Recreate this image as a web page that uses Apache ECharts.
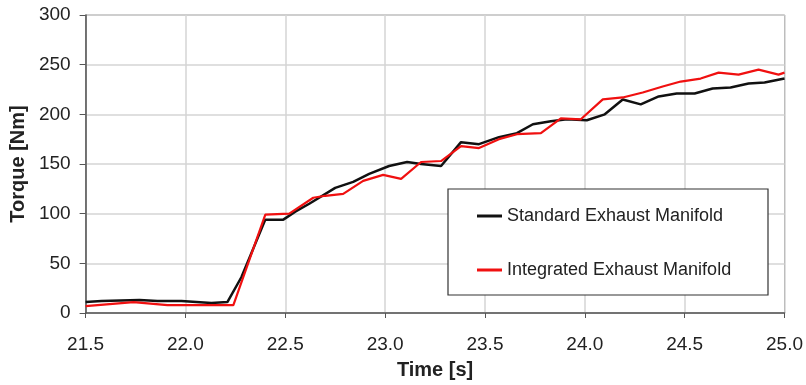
<!DOCTYPE html>
<html>
<head>
<meta charset="utf-8">
<script src="https://cdn.jsdelivr.net/npm/echarts@6/dist/echarts.min.js"></script>
<style>html,body{margin:0;padding:0;background:#fff;}#c{width:806px;height:385px;}</style>
</head>
<body>
<div id="c"></div>
<script>
const seriesNames = ['Standard Exhaust Manifold', 'Integrated Exhaust Manifold'];
const xTicks = [21.5, 22.0, 22.5, 23.0, 23.5, 24.0, 24.5, 25.0];
const yTicks = [0, 50, 100, 150, 200, 250, 300];

const stdTime = [21.5, 21.58, 21.77, 21.86, 21.98, 22.13, 22.21, 22.28, 22.4, 22.49, 22.55, 22.62, 22.75, 22.84, 22.92, 23.02, 23.11, 23.18, 23.28, 23.38, 23.47, 23.57, 23.66, 23.74, 23.83, 23.91, 24.01, 24.1, 24.19, 24.28, 24.37, 24.46, 24.55, 24.64, 24.73, 24.82, 24.9, 25.0];
const stdTorque = [11, 12, 13, 12, 12, 10, 11, 36, 94, 94, 102, 110, 126, 132, 140, 148, 152, 150, 148, 172, 170, 177, 181, 190, 193, 195, 194, 200, 215, 210, 218, 221, 221, 226, 227, 231, 232, 236];

const intTime = [21.5, 21.74, 21.91, 22.24, 22.4, 22.52, 22.64, 22.7, 22.79, 22.89, 22.99, 23.08, 23.18, 23.28, 23.38, 23.47, 23.57, 23.66, 23.78, 23.88, 23.98, 24.09, 24.19, 24.29, 24.39, 24.48, 24.58, 24.67, 24.77, 24.87, 24.97, 25.0];
const intTorque = [7, 11, 8, 8, 99, 100, 116, 118, 120, 133, 139, 135, 152, 153, 168, 166, 175, 180, 181, 196, 195, 215, 217, 222, 228, 233, 236, 242, 240, 245, 240, 242];

const pairs = (xs, ys) => xs.map((x, i) => [x, ys[i]]);

const chart = echarts.init(document.getElementById('c'), null, {renderer: 'canvas'});
const font = 'Liberation Sans, Arial, sans-serif';
chart.setOption({
  animation: false,
  backgroundColor: '#fff',
  grid: {left: 84, right: 17, top: 15, bottom: 70, show: true, borderColor: '#777', borderWidth: 1},
  xAxis: {
    type: 'value', min: xTicks[0], max: xTicks[xTicks.length - 1], interval: 0.5,
    name: 'Time [s]', nameLocation: 'middle', nameGap: 47,
    nameTextStyle: {fontFamily: font, fontWeight: 'bold', fontSize: 20, color: '#222'},
    axisLine: {lineStyle: {color: '#555', width: 1.5}},
    axisTick: {show: true, length: 5, lineStyle: {color: '#555'}},
    axisLabel: {fontFamily: font, fontSize: 19, color: '#222', margin: 22, formatter: v => v.toFixed(1)},
    splitLine: {show: true, lineStyle: {color: '#d4d4d4', width: 1.5}}
  },
  yAxis: {
    type: 'value', min: yTicks[0], max: yTicks[yTicks.length - 1], interval: 50,
    name: 'Torque [Nm]', nameLocation: 'middle', nameGap: 57,
    nameTextStyle: {fontFamily: font, fontWeight: 'bold', fontSize: 20, color: '#222'},
    axisLine: {show: true, lineStyle: {color: '#555', width: 1.5}},
    axisTick: {show: true, length: 6, lineStyle: {color: '#555'}},
    axisLabel: {fontFamily: font, fontSize: 19, color: '#222', margin: 15},
    splitLine: {show: true, lineStyle: {color: '#d4d4d4', width: 1.5}}
  },
  graphic: [{
    type: 'rect', z: 10,
    shape: {x: 448, y: 189, width: 320, height: 106},
    style: {fill: '#fff', stroke: '#333', lineWidth: 1.2}
  }],
  legend: {
    z: 20, left: 477, top: 207, orient: 'vertical', itemGap: 36, padding: 0,
    itemWidth: 25, itemHeight: 3, icon: 'rect',
    textStyle: {fontFamily: font, fontSize: 18, color: '#222'},
    data: seriesNames
  },
  series: [
    {name: seriesNames[0], type: 'line', data: pairs(stdTime, stdTorque), symbol: 'none',
     lineStyle: {color: '#111', width: 2.5}, itemStyle: {color: '#111'}},
    {name: seriesNames[1], type: 'line', data: pairs(intTime, intTorque), symbol: 'none',
     lineStyle: {color: '#f01010', width: 2.2}, itemStyle: {color: '#f01010'}}
  ]
});
</script>
</body>
</html>
